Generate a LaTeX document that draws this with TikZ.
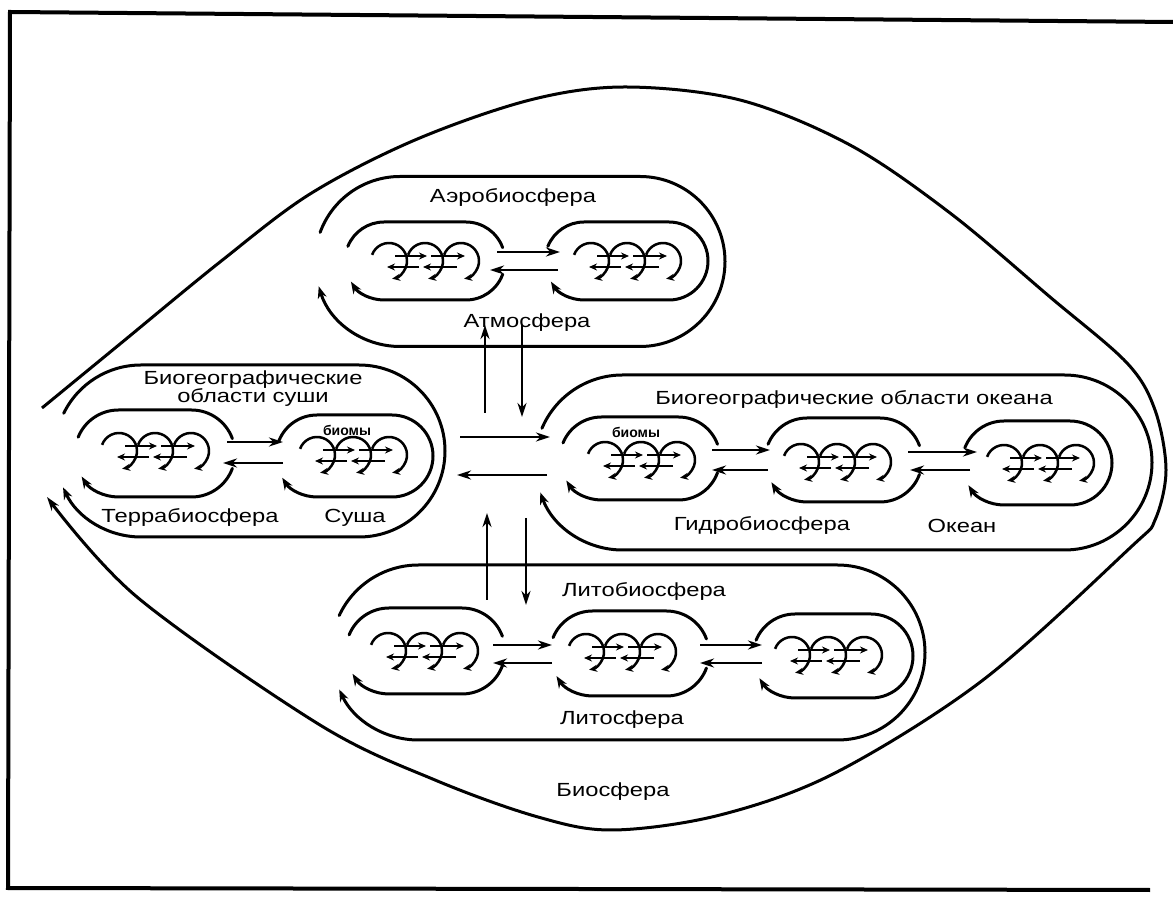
\documentclass[tikz,border=0pt]{standalone}
\usepackage{fontspec}
\setmainfont{Liberation Sans}[FakeStretch=1.25]
\newfontfamily\biomfont{Liberation Sans}
\usetikzlibrary{arrows.meta}
\tikzset{
  cellline/.style={line width=3pt, line cap=round},
  cellhead/.style={-{Stealth[length=12pt,width=9pt]}},
  conn/.style={line width=2.6pt, -{Stealth[length=14pt,width=9pt]}},
  glyph/.style={line width=2.5pt, -{Stealth[length=8pt,width=7pt]}},
  outerline/.style={line width=3pt},
  lbl/.style={font=\fontsize{19}{19}\selectfont, inner sep=0pt, anchor=base},
  biolbl/.style={font=\biomfont\bfseries\fontsize{14}{14}\selectfont, inner sep=0pt, anchor=base},
}
% closed-right cell: xl xr Y r gaptop gapbottom
\newcommand{\cellC}[6]{%
  \draw[cellline,cellhead] (#1,#3) ++({180-#5}:#4) arc[start angle={180-#5}, end angle=90, radius=#4]
    -- (#2,{#3+#4}) arc[start angle=90, end angle=-90, radius=#4]
    -- (#1,{#3-#4}) arc[start angle=270, end angle={180+#6}, radius=#4];}
% open-right cell: xl xr Y r gaptop gapbottom gapright
\newcommand{\cellO}[7]{%
  \draw[cellline] (#1,#3) ++({180-#5}:#4) arc[start angle={180-#5}, end angle=90, radius=#4]
    -- (#2,{#3+#4}) arc[start angle=90, end angle=#7, radius=#4];
  \draw[cellline,cellhead] (#2,#3) ++({-#7}:#4) arc[start angle={-#7}, end angle=-90, radius=#4]
    -- (#1,{#3-#4}) arc[start angle=270, end angle={180+#6}, radius=#4];}
% biome glyph
\newcommand{\biome}[2]{%
  \foreach \dx in {-36,0,36} {\draw[glyph] ({#1+\dx},#2) ++(160:18) arc[start angle=160, end angle=-80, radius=18];}
  \draw[glyph] ({#1-30},{#2+5}) -- ({#1+2},{#2+5});
  \draw[glyph] ({#1+6},{#2+5}) -- ({#1+40},{#2+5});
  \draw[glyph] ({#1+32},{#2-6}) -- ({#1-2},{#2-6});
  \draw[glyph] ({#1-6},{#2-6}) -- ({#1-38},{#2-6});}
\begin{document}
\begin{tikzpicture}[x=1pt,y=1pt]
\useasboundingbox (0,0) rectangle (1173,900);
\fill[white] (0,0) rectangle (1173,900);
% frame
\draw[line width=4pt] (1173,878) -- (10,888) -- (8,12) -- (1150,10);
% outer lens (biosphere)
\draw[outerline, -{Stealth[length=14pt,width=9pt]}] plot[smooth, tension=0.55] coordinates {
 (42,492) (120,556) (220,638) (310,706) (415,760) (530,800) (625,813)
 (740,800) (850,755) (950,687) (1050,603) (1127,537) (1155,490) (1166,430) (1155,380)
 (1131,353) (983,220) (835,127) (720,85) (613,70) (538,83) (435,120)
 (320,175) (137,303) (47,403)};
% ---- Aerobiosphere
\cellC{400}{640}{638.5}{85}{20}{17}
\cellO{384}{466}{639}{39}{22}{32}{20}
\cellC{584}{669}{639}{39}{22}{32}
\biome{425}{639}
\biome{627}{639}
\draw[conn] (497,648) -- (560,648);
\draw[conn] (558,630) -- (490,630);
\node[lbl] (aero) at (513,697) {Аэробиосфера};
\node[lbl] (atmo) at (527,572) {Атмосфера};
% ---- Land
\cellC{141}{359}{449}{86}{26}{25}
\cellO{118.5}{191.5}{446.5}{43.5}{22}{32}{20}
\cellC{317}{392}{444}{41}{22}{32}
\biome{155}{449}
\biome{353}{445}
\draw[conn] (227,458) -- (283,458);
\draw[conn] (283,437) -- (223,437);
\node[lbl] (land1) at (253,515) {Биогеографические};
\node[lbl] (land2) at (253,497) {области суши};
\node[biolbl] (biomL) at (347,464) {биомы};
\node[lbl] (terra) at (190,377) {Террабиосфера};
\node[lbl] (susha) at (355,377) {Суша};
% ---- Ocean
\cellC{622.5}{1064.5}{437.5}{87.5}{23}{20}
\cellO{601.5}{678.5}{441.5}{41.5}{22}{32}{20}
\cellO{807}{880}{440}{42}{22}{32}{20}
\cellC{1004}{1070}{437}{42}{22}{32}
\biome{641}{440}
\biome{837}{438}
\biome{1040}{437}
\draw[conn] (712,450) -- (770,450);
\draw[conn] (768,430) -- (712,430);
\draw[conn] (908,448) -- (977,448);
\draw[conn] (970,430) -- (910,430);
\node[lbl] (oceanT) at (854,495) {Биогеографические области океана};
\node[biolbl] (biomO) at (636,462) {биомы};
\node[lbl] (hydro) at (762,369) {Гидробиосфера};
\node[lbl] (ocean) at (962,367) {Океан};
% ---- Litho
\cellC{418.5}{837.5}{247.5}{87.5}{25}{25}
\cellO{389}{462}{249}{43}{22}{32}{20}
\cellO{592.5}{666.5}{246.5}{42.5}{22}{32}{20}
\cellC{795}{871}{244}{42}{22}{32}
\biome{424}{249}
\biome{622}{248}
\biome{828}{245}
\draw[conn] (493,255) -- (552,255);
\draw[conn] (552,237) -- (493,237);
\draw[conn] (700,255) -- (762,255);
\draw[conn] (762,237) -- (700,237);
\node[lbl] (litho) at (644,303) {Литобиосфера};
\node[lbl] (lithos) at (622,175) {Литосфера};
% ---- centre exchange arrows
\draw[conn] (460,463) -- (550,463);
\draw[conn] (547,425) -- (457,425);
\draw[conn] (485,487) -- (485,575);
\draw[conn] (522,575) -- (522,483);
\draw[conn] (487,300) -- (487,387);
\draw[conn] (526,382) -- (526,295);
\node[lbl] (bio) at (613,103) {Биосфера};
\end{tikzpicture}
\end{document}
